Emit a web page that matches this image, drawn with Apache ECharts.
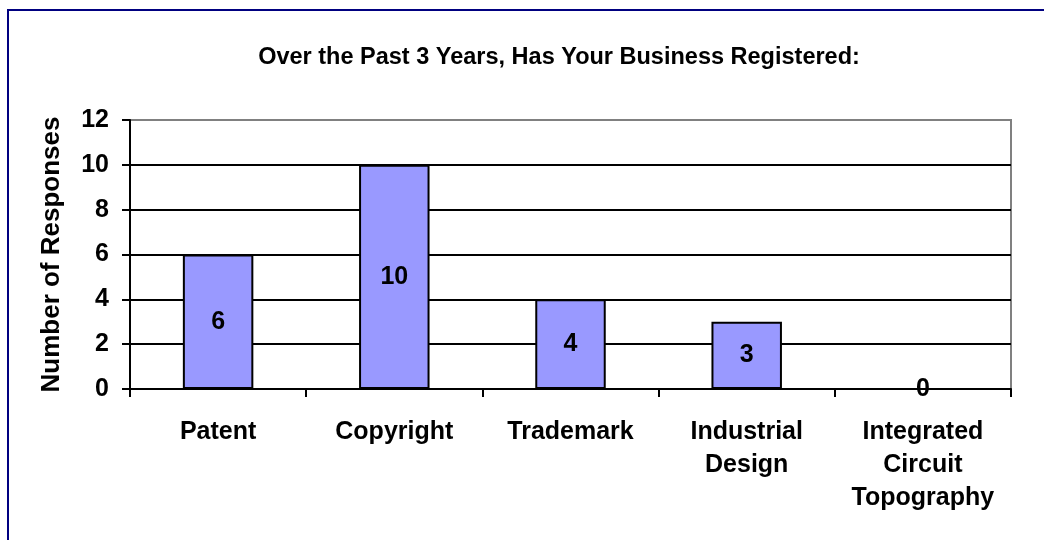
<!DOCTYPE html>
<html>
<head>
<meta charset="utf-8">
<script src="https://cdn.jsdelivr.net/npm/echarts@6/dist/echarts.min.js"></script>
<style>
html,body{margin:0;padding:0;background:#fff;}
#c{width:1044px;height:540px;}
</style>
</head>
<body>
<div id="c"></div>
<script>
const titleText = 'Over the Past 3 Years, Has Your Business Registered:';
const categories = ['Patent', 'Copyright', 'Trademark', 'Industrial\nDesign', 'Integrated\nCircuit\nTopography'];
const responses = [6, 10, 4, 3, 0];
const yAxisName = 'Number of Responses';
const yTicks = { min: 0, max: 12, interval: 2 };

const FONT = '"Liberation Sans", Arial, sans-serif';
const chart = echarts.init(document.getElementById('c'), null, { renderer: 'canvas' });
chart.setOption({
  backgroundColor: '#fff',
  animation: false,
  graphic: [{
    type: 'rect', silent: true, z: -10,
    shape: { x: 8, y: 10, width: 1100, height: 600 },
    style: { fill: '#fff', stroke: '#000080', lineWidth: 2 }
  }],
  title: {
    text: titleText,
    left: 559, top: 46, textAlign: 'center', padding: 0,
    textStyle: { fontFamily: FONT, fontWeight: 'bold', fontSize: 23.5, color: '#000' }
  },
  grid: {
    left: 130, right: 33, top: 120, bottom: 151,
    show: true, borderColor: '#808080', borderWidth: 2, backgroundColor: '#fff'
  },
  xAxis: {
    type: 'category',
    data: categories,
    axisLine: { lineStyle: { color: '#000', width: 2 } },
    axisTick: { show: true, length: 8, alignWithLabel: false, lineStyle: { color: '#000', width: 2 } },
    axisLabel: { fontFamily: FONT, fontWeight: 'bold', fontSize: 25, color: '#000', margin: 27, lineHeight: 33, interval: 0 },
    splitLine: { show: false }
  },
  yAxis: {
    type: 'value',
    min: yTicks.min, max: yTicks.max, interval: yTicks.interval,
    name: yAxisName,
    nameLocation: 'middle',
    nameGap: 65,
    nameRotate: 90,
    nameTextStyle: { fontFamily: FONT, fontWeight: 'bold', fontSize: 26, color: '#000' },
    axisLine: { show: true, lineStyle: { color: '#000', width: 2 } },
    axisTick: { show: true, length: 8, lineStyle: { color: '#000', width: 2 } },
    axisLabel: { fontFamily: FONT, fontWeight: 'bold', fontSize: 25, color: '#000', margin: 21 },
    splitLine: { show: true, showMaxLine: false, showMinLine: false, lineStyle: { color: '#000', width: 2 } }
  },
  series: [{
    type: 'bar',
    data: responses,
    barWidth: '40%',
    itemStyle: { color: '#9999FF', borderColor: '#000', borderWidth: 2 },
    label: {
      show: true, position: 'inside',
      fontFamily: FONT, fontWeight: 'bold', fontSize: 25, color: '#000'
    }
  }]
});
</script>
</body>
</html>
